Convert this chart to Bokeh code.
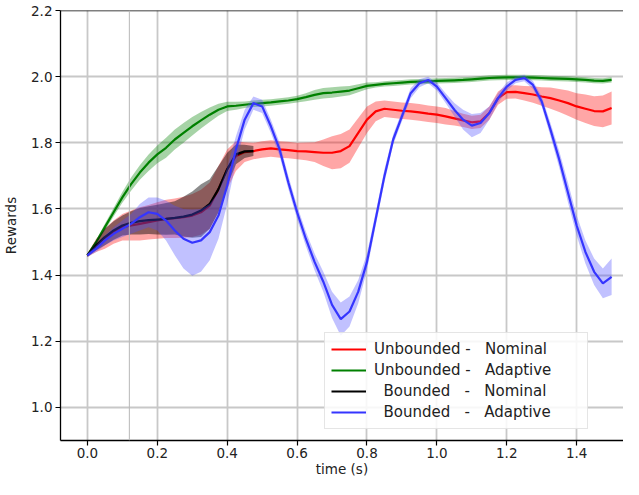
import numpy as np
from bokeh.plotting import figure
from bokeh.models import (Range1d, FixedTicker, PrintfTickFormatter, Legend,
                          LegendItem, Span)
from bokeh.embed import file_html
from bokeh.resources import INLINE

# ---------------- data ----------------
time = [round(i * 0.025, 3) for i in range(61)]   # 0.0 .. 1.5 s
time_bounded_nominal = time[:20]                  # 0.0 .. 0.475 s

unbounded_nominal = [
    1.46, 1.49, 1.51, 1.53, 1.545, 1.55, 1.555, 1.56, 1.565, 1.57,
    1.572, 1.575, 1.58, 1.59, 1.61, 1.66, 1.72, 1.76, 1.772, 1.775,
    1.78, 1.783, 1.78, 1.778, 1.775, 1.774, 1.772, 1.77, 1.77, 1.775,
    1.79, 1.83, 1.87, 1.895, 1.903, 1.90, 1.897, 1.895, 1.892, 1.888,
    1.885, 1.88, 1.874, 1.868, 1.862, 1.865, 1.89, 1.935, 1.953, 1.954,
    1.95, 1.946, 1.94, 1.935, 1.928, 1.92, 1.91, 1.903, 1.896, 1.895,
    1.905]
unbounded_nominal_spread = [
    .005, .02, .03, .035, .04, .045, .05, .052, .055, .058,
    .06, .062, .065, .068, .07, .07, .06, .045, .03, .025,
    .025, .025, .025, .025, .025, .027, .03, .04, .05, .052,
    .05, .045, .04, .03, .025, .025, .025, .025, .025, .025,
    .025, .025, .022, .02, .02, .02, .02, .02, .02, .02,
    .022, .025, .028, .032, .035, .038, .04, .043, .045, .048,
    .05]

unbounded_adaptive = [
    1.46, 1.50, 1.545, 1.59, 1.635, 1.675, 1.71, 1.74, 1.765, 1.785,
    1.81, 1.83, 1.85, 1.868, 1.885, 1.90, 1.91, 1.912, 1.915, 1.918,
    1.92, 1.922, 1.925, 1.928, 1.932, 1.938, 1.945, 1.95, 1.952, 1.955,
    1.958, 1.965, 1.972, 1.975, 1.978, 1.98, 1.982, 1.984, 1.985, 1.986,
    1.987, 1.988, 1.989, 1.99, 1.992, 1.994, 1.996, 1.997, 1.998, 1.998,
    1.998, 1.997, 1.996, 1.995, 1.994, 1.993, 1.992, 1.99, 1.988, 1.987,
    1.99]
unbounded_adaptive_spread = [
    .003, .006, .01, .013, .016, .02, .022, .025, .027, .03,
    .03, .03, .028, .025, .022, .018, .014, .012, .01, .01,
    .01, .01, .01, .01, .01, .012, .015, .016, .016, .015,
    .014, .012, .01, .008, .008, .008, .008, .008, .008, .008,
    .008, .008, .008, .008, .008, .008, .008, .008, .008, .008,
    .008, .008, .008, .008, .008, .008, .008, .008, .008, .008,
    .008]

bounded_nominal = [
    1.46, 1.49, 1.515, 1.535, 1.55, 1.558, 1.563, 1.566, 1.568, 1.57,
    1.573, 1.577, 1.583, 1.595, 1.615, 1.66, 1.72, 1.765, 1.774, 1.775]
bounded_nominal_spread = [
    .005, .015, .025, .028, .03, .035, .04, .042, .045, .048,
    .05, .06, .07, .08, .075, .07, .05, .03, .02, .015]

bounded_adaptive = [
    1.46, 1.48, 1.505, 1.525, 1.54, 1.555, 1.575, 1.59, 1.585, 1.565,
    1.535, 1.51, 1.498, 1.505, 1.53, 1.58, 1.67, 1.78, 1.87, 1.92,
    1.91, 1.85, 1.78, 1.68, 1.59, 1.51, 1.44, 1.38, 1.31, 1.267,
    1.29, 1.35, 1.44, 1.57, 1.70, 1.81, 1.88, 1.95, 1.98, 1.99,
    1.97, 1.935, 1.90, 1.87, 1.852, 1.86, 1.89, 1.935, 1.97, 1.99,
    1.996, 1.975, 1.925, 1.84, 1.75, 1.65, 1.55, 1.47, 1.41, 1.375,
    1.395]
bounded_adaptive_spread = [
    .005, .01, .015, .02, .025, .03, .04, .045, .05, .06,
    .075, .09, .10, .095, .085, .07, .055, .04, .03, .02,
    .02, .02, .02, .02, .02, .022, .025, .03, .04, .05,
    .045, .035, .025, .02, .02, .015, .015, .015, .012, .01,
    .012, .015, .02, .03, .035, .03, .02, .015, .012, .01,
    .01, .012, .015, .02, .025, .03, .03, .035, .04, .045,
    .055]

x_ticks = [0.0, 0.2, 0.4, 0.6, 0.8, 1.0, 1.2, 1.4]
y_ticks = [1.0, 1.2, 1.4, 1.6, 1.8, 2.0, 2.2]

NB = "\u00a0"
labels = [
    "Unbounded -   Nominal",
    "Unbounded -   Adaptive",
    "  Bounded   -   Nominal",
    "  Bounded   -   Adaptive",
]

# ---------------- figure ----------------
FONT = "DejaVu Sans"
p = figure(width=623, height=479, output_backend="svg", toolbar_location=None,
           x_range=Range1d(-0.077, 1.534), y_range=Range1d(0.9, 2.2),
           min_border_left=59, min_border_right=0, min_border_top=10,
           min_border_bottom=36)
p.outline_line_color = None
p.background_fill_color = "white"
p.border_fill_color = "white"

for ax in (p.xaxis[0], p.yaxis[0]):
    ax.axis_line_color = "black"
    ax.axis_line_width = 1.3
    ax.major_tick_line_color = "black"
    ax.major_tick_line_width = 1.2
    ax.major_tick_out = 5
    ax.major_tick_in = 0
    ax.minor_tick_line_color = None
    ax.major_label_text_font = FONT
    ax.major_label_text_font_size = "13.5px"
    ax.major_label_text_color = "#222222"
    ax.axis_label_text_font = FONT
    ax.axis_label_text_font_size = "13.5px"
    ax.axis_label_text_font_style = "normal"
    ax.axis_label_text_color = "#222222"
    ax.formatter = PrintfTickFormatter(format="%.1f")

p.xaxis.ticker = FixedTicker(ticks=x_ticks)
p.yaxis.ticker = FixedTicker(ticks=y_ticks)
p.xaxis.axis_label = "time (s)"
p.yaxis.axis_label = "Rewards"
p.xaxis.major_label_standoff = 2
p.xaxis.axis_label_standoff = 0
p.yaxis.major_label_standoff = 3
p.yaxis.axis_label_standoff = 9

for g in (p.xgrid[0], p.ygrid[0]):
    g.grid_line_color = "#c8c8c8"
    g.grid_line_width = 1.8

p.add_layout(Span(location=2.2, dimension="width", line_color="black",
                  line_width=1.3))
p.add_layout(Span(location=0.12, dimension="height", line_color="#b8b8b8",
                  line_width=1))

series = [
    (time, unbounded_nominal, unbounded_nominal_spread, "#ff0000", "#ff0000", 0.35),
    (time, unbounded_adaptive, unbounded_adaptive_spread, "#008000", "#008000", 0.35),
    (time_bounded_nominal, bounded_nominal, bounded_nominal_spread, "#000000", "#000000", 0.45),
    (time, bounded_adaptive, bounded_adaptive_spread, "#3535ff", "#4d4dff", 0.35),
]

items = []
for (tx, vals, spr, lc, fc, fa), lab in zip(series, labels):
    v = np.array(vals)
    s = np.array(spr)
    p.varea(x=tx, y1=v - s, y2=v + s, fill_color=fc, fill_alpha=fa)
    r = p.line(tx, vals, line_color=lc, line_width=2.2)
    items.append(LegendItem(label=lab.replace(" ", NB), renderers=[r]))

legend = Legend(items=items, location=(264, 11))
legend.label_text_font = FONT
legend.label_text_font_size = "15px"
legend.label_text_color = "#222222"
legend.glyph_width = 35
legend.glyph_height = 20
legend.label_height = 20
legend.label_width = 207
legend.label_standoff = 8
legend.spacing = 1
legend.padding = 6
legend.margin = 0
legend.border_line_color = "#cccccc"
legend.border_line_width = 1
legend.background_fill_color = "white"
legend.background_fill_alpha = 0.85
p.add_layout(legend, "center")

open("out.html", "w").write(file_html(p, INLINE))
